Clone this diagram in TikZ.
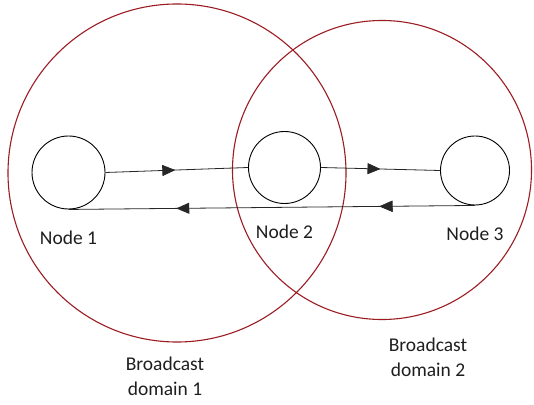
\documentclass[tikz,border=0pt]{standalone}
\usepackage{fontspec}
\setmainfont{Carlito}
\usepackage{tikz}
\usetikzlibrary{arrows.meta, positioning, decorations.markings}
\definecolor{cDomain}{HTML}{9B1C22}
\definecolor{cText}{HTML}{1E1E1E}
\tikzset{
  domain/.style={
    circle, draw=cDomain, line width=1.1pt, inner sep=0pt, minimum size=#1
  },
  host/.style={
    circle, draw=black, line width=0.9pt, inner sep=0pt, minimum size=#1
  },
  host/.default=73pt,
  hlabel/.style={font=\fontsize{19.5}{24.5}\selectfont, text=cText, inner sep=0pt},
  dlabel/.style={hlabel, align=center, anchor=north},
  link/.style={
    line width=0.8pt, draw=black!85,
    decoration={markings,
      mark=at position #1 with {\arrow{>}}},
    postaction={decorate}
  },
}

\begin{document}
\begin{tikzpicture}[x=1pt, y=1pt, >={Triangle[length=13pt, width=11pt]}]
  \useasboundingbox (0,0) rectangle (534,404);

  % Broadcast domains
  \node[domain=338pt] (bd1) at (177,231) {};
  \node[domain=299pt] (bd2) at (382,234) {};

  % Hosts
  \node[host] (n1) at (68.5,231.5) {};
  \node[host=72pt] (n2) at (284.5,236.5) {};
  \node[host=69pt] (n3) at (475,233.5) {};

  \node[hlabel, below=21pt of n1] (l1) {Node 1};
  \node[hlabel, below=21pt of n2] (l2) {Node 2};
  \node[hlabel, below=21pt of n3] (l3) {Node 3};

  % Forward links
  \draw[link=0.49] (n1.east) -- (n2.west);
  \draw[link=0.50] (n2.east) -- (n3.west);

  % Return link
  \draw[link=0.235, postaction={decorate, decoration={markings,
      mark=at position 0.735 with {\arrow{>}}}}]
    (n3.south) -- (n1.south);

  % Domain labels
  \node[dlabel] (dl1) at (165,47) {Broadcast\\domain 1};
  \node[dlabel] (dl2) at (428,66) {Broadcast\\domain 2};

\end{tikzpicture}
\end{document}
